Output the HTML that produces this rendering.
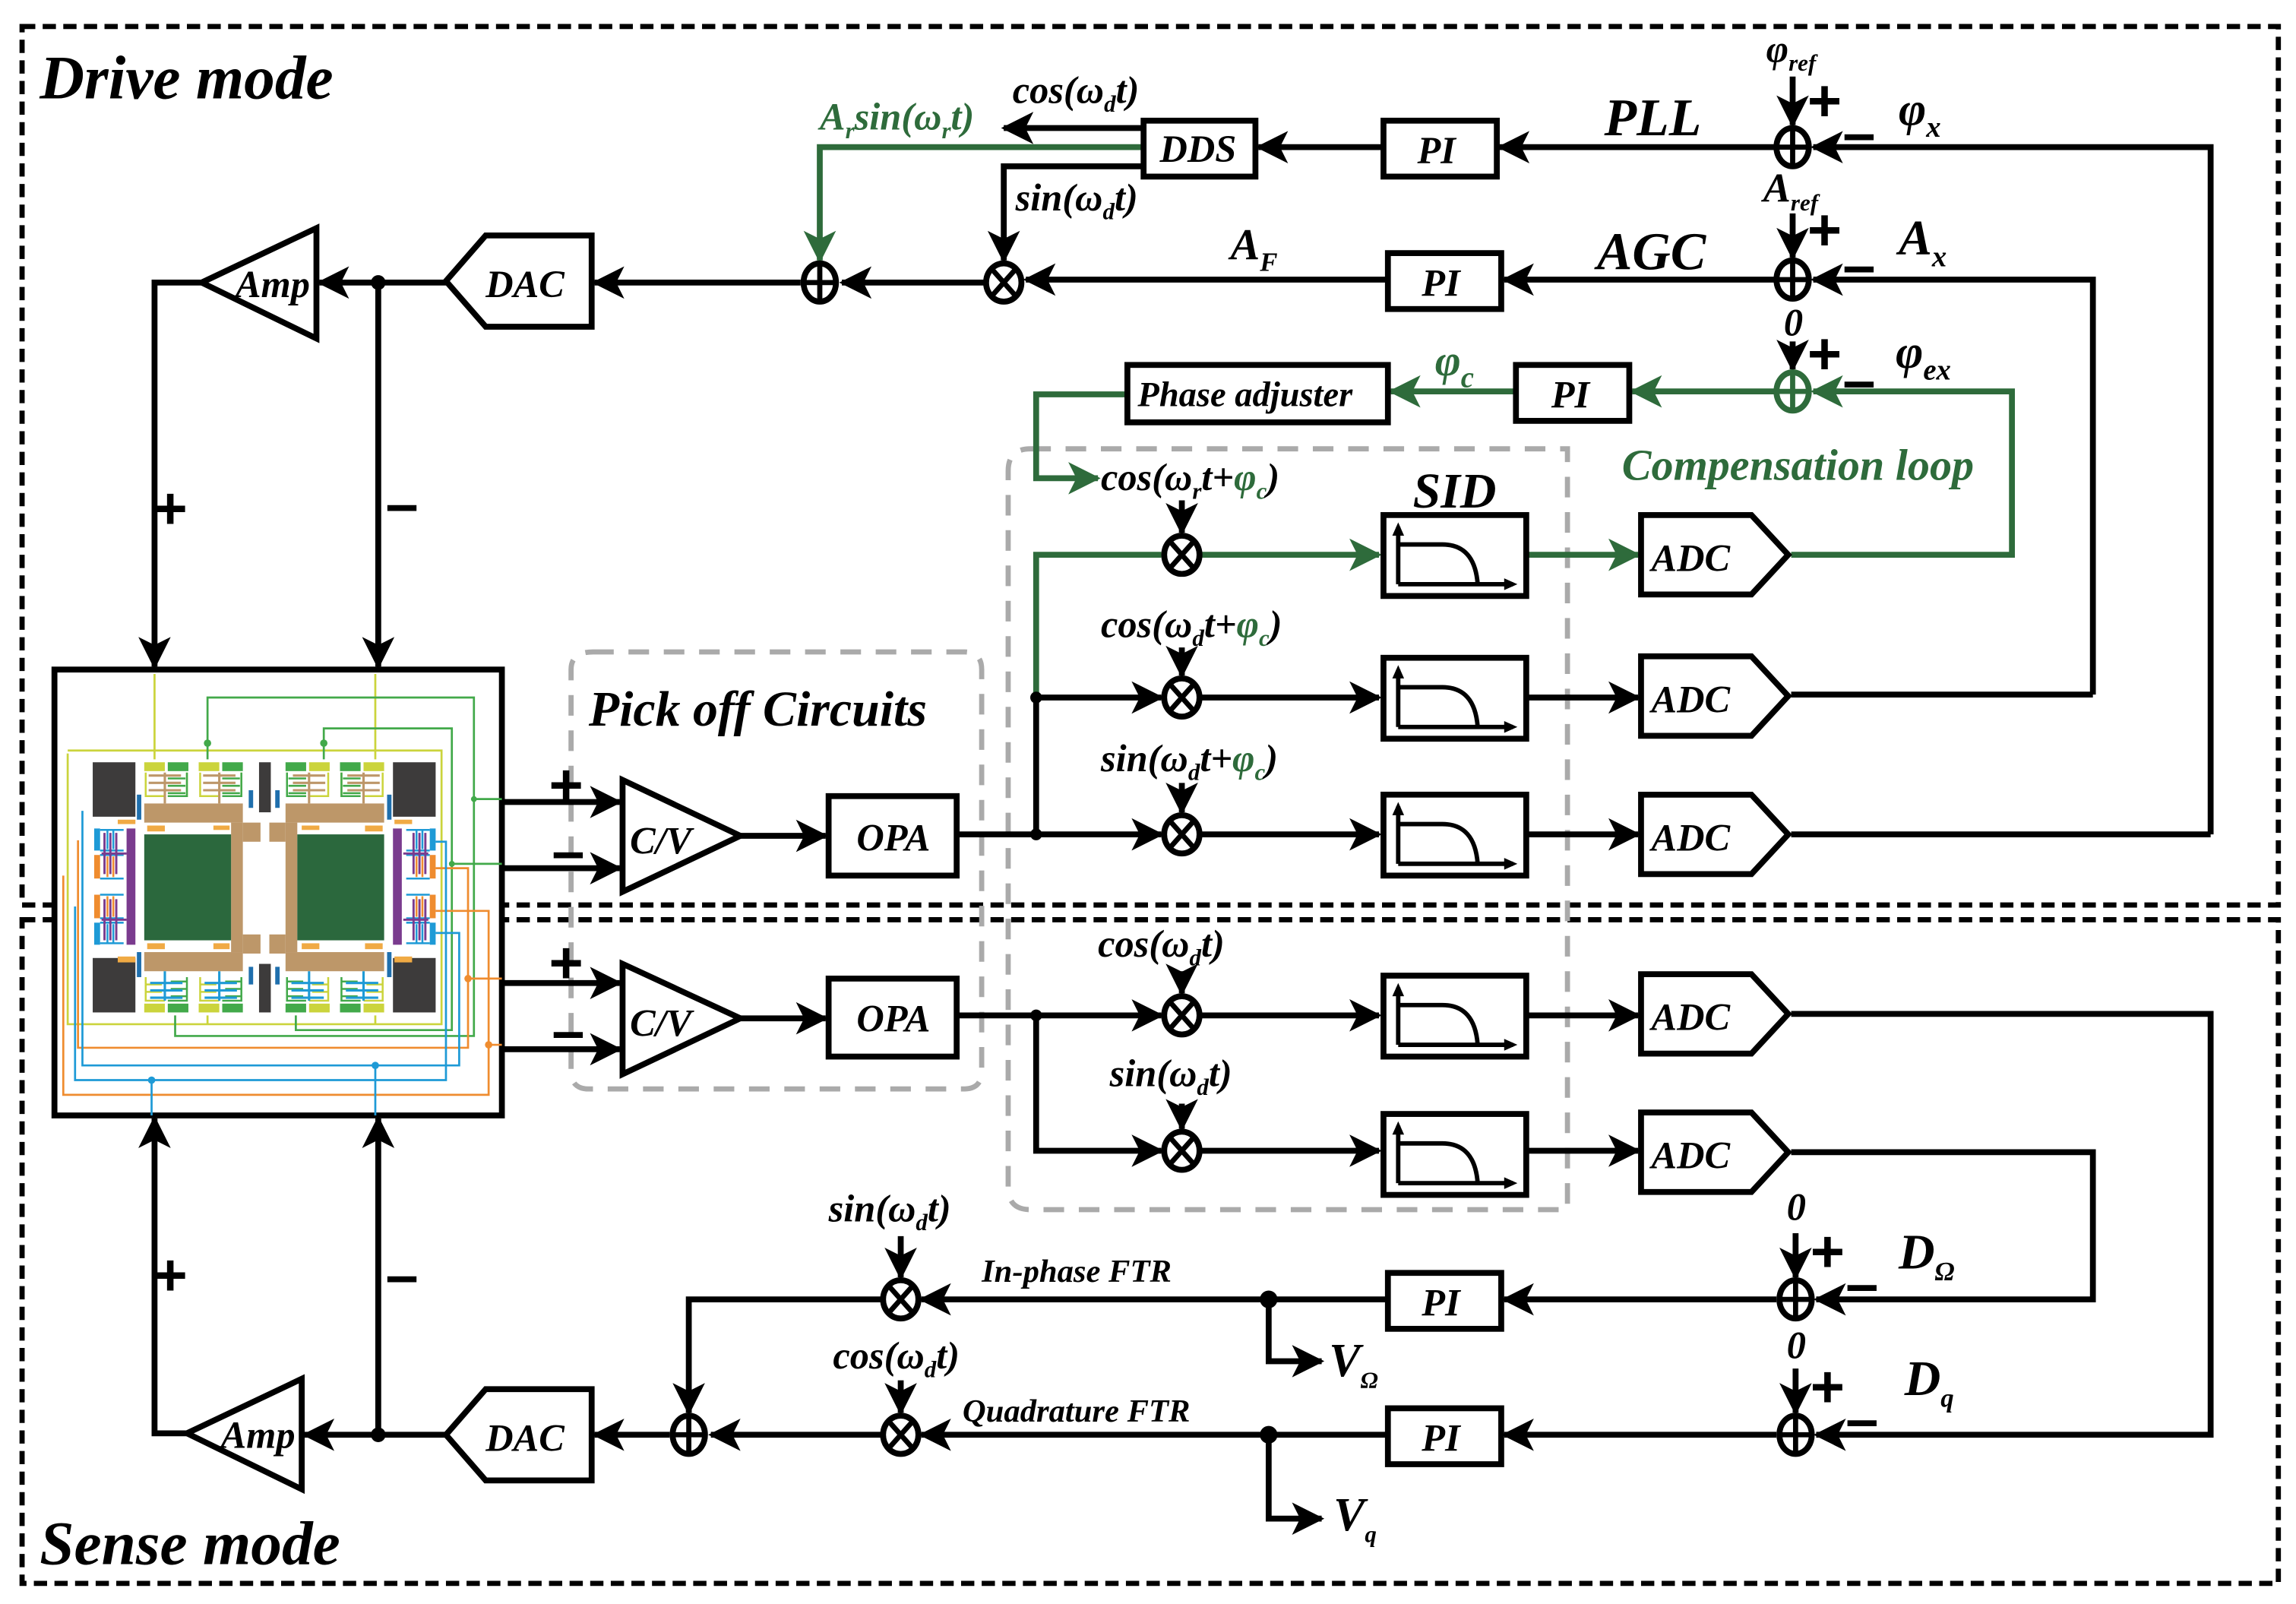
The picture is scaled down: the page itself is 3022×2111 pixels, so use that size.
<!DOCTYPE html>
<html><head><meta charset="utf-8"><style>
html,body{margin:0;padding:0;background:#fff}
svg{display:block}
text{font-family:"Liberation Serif",serif;font-weight:bold;font-style:italic;fill:#000}
.g{fill:#2e6b3b}
.pm{font-family:"Liberation Sans",sans-serif;font-style:normal;font-weight:bold}
</style></head><body>
<svg width="3022" height="2111" viewBox="0 0 1560 1090" preserveAspectRatio="none" xmlns="http://www.w3.org/2000/svg">
<defs>
<marker id="a" viewBox="0 0 12 12" refX="11" refY="6" markerWidth="5.5" markerHeight="5.5" orient="auto" markerUnits="strokeWidth"><path d="M0,0 L12,6 L0,12 L3,6 z" fill="#000"/></marker>
<marker id="ag" viewBox="0 0 12 12" refX="11" refY="6" markerWidth="5.5" markerHeight="5.5" orient="auto" markerUnits="strokeWidth"><path d="M0,0 L12,6 L0,12 L3,6 z" fill="#2e6b3b"/></marker>
<g id="mul"><ellipse cx="0" cy="0" rx="12" ry="13" fill="#fff" stroke="#000" stroke-width="4"/><path d="M-8,-9 L8,9 M8,-9 L-8,9" stroke="#000" stroke-width="3.5"/></g>
<g id="sum"><ellipse cx="0" cy="0" rx="11" ry="13" fill="#fff" stroke="#000" stroke-width="4"/><path d="M-11,0 L11,0 M0,-13 L0,13" stroke="#000" stroke-width="3.5"/></g>
<g id="sumg"><ellipse cx="0" cy="0" rx="11" ry="13" fill="#fff" stroke="#2e6b3b" stroke-width="4"/><path d="M-11,0 L11,0 M0,-13 L0,13" stroke="#2e6b3b" stroke-width="3.5"/></g>
<g id="flt"><rect x="0" y="0" width="97" height="55" fill="#fff" stroke="#000" stroke-width="4"/><path d="M10,47 L10,8 M10,47 L88,47 M10,20 L40,20 Q62,20 64,47" fill="none" stroke="#000" stroke-width="3"/><path d="M6,14 L10,5 L14,14z M82,43 L91,47 L82,51z" fill="#000"/></g>
<g id="adc"><path d="M0,0 L75,0 L100,27 L75,54 L0,54 z" fill="#fff" stroke="#000" stroke-width="4"/></g>
<g id="ctop">
<rect x="0" y="0" width="14" height="6" fill="#cbd43c"/><rect x="16" y="0" width="14" height="6" fill="#42a94a"/>
<path d="M1,7 L1,23 L14,23 M29,7 L29,23 L16,23" fill="none" stroke="#cbd43c" stroke-width="1.3"/>
<path d="M29,7 L29,23 L16,23 M16,11 L28,11 M16,16 L28,16 M16,21 L28,21" fill="none" stroke="#42a94a" stroke-width="1.3"/>
<path d="M3,9 L25,9 M3,14 L25,14 M3,19 L25,19 M14,7 L14,28" fill="none" stroke="#bd9769" stroke-width="1.6"/>
</g>
<g id="cbot">
<rect x="0" y="18" width="14" height="6" fill="#cbd43c"/><rect x="16" y="18" width="14" height="6" fill="#42a94a"/>
<path d="M1,0 L1,16 L14,16 M1,5 L12,5 M1,10 L12,10" fill="none" stroke="#cbd43c" stroke-width="1.3"/>
<path d="M29,0 L29,16 L16,16 M18,3 L29,3 M18,8 L29,8 M18,13 L29,13" fill="none" stroke="#42a94a" stroke-width="1.3"/>
<path d="M4,4 L26,4 M4,9 L26,9 M4,14 L26,14 M14,-4 L14,16" fill="none" stroke="#1e9ad6" stroke-width="1.6"/>
</g>
<g id="cside">
<rect x="0" y="0" width="4" height="15" fill="#1e9ad6"/><rect x="0" y="18" width="4" height="16" fill="#ef8c2f"/>
<path d="M4,1 L20,1 M4,15 L20,15 M4,18 L20,18 M4,34 L20,34" stroke-width="1.3" fill="none" stroke="#1e9ad6"/>
<path d="M7,3 L7,31 M11,3 L11,31 M15,3 L15,31 M5,17 L22,17" stroke="#7a3b8e" stroke-width="1.5" fill="none"/>
<path d="M9,1 L9,14 M13,1 L13,14" stroke="#1e9ad6" stroke-width="1.3"/>
<path d="M9,19 L9,33 M13,19 L13,33" stroke="#ef8c2f" stroke-width="1.3"/>
</g>
</defs>

<!-- mode boxes -->
<rect x="15" y="18" width="1533" height="597" fill="none" stroke="#000" stroke-width="3.5" stroke-dasharray="9,5"/>
<rect x="15" y="625" width="1533" height="451" fill="none" stroke="#000" stroke-width="3.5" stroke-dasharray="9,5"/>
<text x="27" y="67" font-size="42">Drive mode</text>
<text x="27" y="1063" font-size="42">Sense mode</text>

<!-- gray dashed -->
<path d="M403,443 L655,443 Q667,443 667,455 L667,728 Q667,740 655,740 L400,740 Q388,740 388,728 L388,455 Q388,443 403,443 Z" fill="none" stroke="#aaa" stroke-width="3.5" stroke-dasharray="14,10"/>
<path d="M700,305 L1065,305 L1065,822 L700,822 Q685,822 685,807 L685,320 Q685,305 700,305 Z" fill="none" stroke="#aaa" stroke-width="3.5" stroke-dasharray="14,10"/>
<text x="400" y="493" font-size="34">Pick off Circuits</text>
<text x="960" y="345" font-size="34">SID</text>

<g stroke="#000" stroke-width="4" fill="none">
<path d="M137,192 L105,192 L105,453" marker-end="url(#a)"/>
<path d="M303,192 L217,192" marker-end="url(#a)"/>
<path d="M257,192 L257,453" marker-end="url(#a)"/>
<path d="M544,192 L404,192" marker-end="url(#a)"/>
<path d="M669,192 L572,192" marker-end="url(#a)"/>
<path d="M943,190 L697,190" marker-end="url(#a)"/>
<path d="M1207,190 L1022,190" marker-end="url(#a)"/>
<path d="M1422,472 L1422,190 L1232,190" marker-end="url(#a)"/>
<path d="M1217,472 L1422,472"/>
<path d="M1207,100 L1019,100" marker-end="url(#a)"/>
<path d="M940,100 L855,100" marker-end="url(#a)"/>
<path d="M1502,567 L1502,100 L1232,100" marker-end="url(#a)"/>
<path d="M1217,567 L1502,567"/>
<path d="M777,87 L682,87" marker-end="url(#a)"/>
<path d="M777,113 L682,113 L682,177" marker-end="url(#a)"/>
<path d="M1218,52 L1218,85" marker-end="url(#a)"/>
<path d="M1218,145 L1218,175" marker-end="url(#a)"/>
<path d="M1218,232 L1218,251" marker-end="url(#a)"/>
<path d="M803,340 L803,362" marker-end="url(#a)"/>
<path d="M803,440 L803,459" marker-end="url(#a)"/>
<path d="M803,532 L803,552" marker-end="url(#a)"/>
<path d="M650,567 L789,567" marker-end="url(#a)"/>
<path d="M704,474 L789,474" marker-end="url(#a)"/>
<path d="M704,567 L704,470"/>
<path d="M816,474 L937,474" marker-end="url(#a)"/>
<path d="M816,567 L937,567" marker-end="url(#a)"/>
<path d="M1037,474 L1113,474" marker-end="url(#a)"/>
<path d="M1037,567 L1113,567" marker-end="url(#a)"/>
<path d="M341,545 L421,545" marker-end="url(#a)"/>
<path d="M341,590 L421,590" marker-end="url(#a)"/>
<path d="M341,668 L421,668" marker-end="url(#a)"/>
<path d="M341,713 L421,713" marker-end="url(#a)"/>
<path d="M503,568 L561,568" marker-end="url(#a)"/>
<path d="M503,692 L561,692" marker-end="url(#a)"/>
<path d="M650,690 L789,690" marker-end="url(#a)"/>
<path d="M704,690 L704,782 L789,782" marker-end="url(#a)"/>
<path d="M803,660 L803,675" marker-end="url(#a)"/>
<path d="M803,750 L803,767" marker-end="url(#a)"/>
<path d="M816,690 L937,690" marker-end="url(#a)"/>
<path d="M816,782 L937,782" marker-end="url(#a)"/>
<path d="M1037,690 L1113,690" marker-end="url(#a)"/>
<path d="M1037,782 L1113,782" marker-end="url(#a)"/>
<path d="M1217,689 L1502,689 L1502,975 L1234,975" marker-end="url(#a)"/>
<path d="M1217,783 L1422,783 L1422,883 L1234,883" marker-end="url(#a)"/>
<path d="M1220,838 L1220,868" marker-end="url(#a)"/>
<path d="M1220,930 L1220,960" marker-end="url(#a)"/>
<path d="M1207,883 L1022,883" marker-end="url(#a)"/>
<path d="M1207,975 L1022,975" marker-end="url(#a)"/>
<path d="M943,883 L626,883" marker-end="url(#a)"/>
<path d="M943,975 L626,975" marker-end="url(#a)"/>
<path d="M862,883 L862,925 L898,925" marker-end="url(#a)"/>
<path d="M862,975 L862,1032 L898,1032" marker-end="url(#a)"/>
<path d="M612,840 L612,868" marker-end="url(#a)"/>
<path d="M612,938 L612,960" marker-end="url(#a)"/>
<path d="M599,883 L468,883 L468,960" marker-end="url(#a)"/>
<path d="M599,975 L483,975" marker-end="url(#a)"/>
<path d="M455,975 L404,975" marker-end="url(#a)"/>
<path d="M303,975 L207,975" marker-end="url(#a)"/>
<path d="M127,974 L105,974 L105,760" marker-end="url(#a)"/>
<path d="M257,975 L257,760" marker-end="url(#a)"/>
</g>
<g stroke="#2e6b3b" stroke-width="4" fill="none">
<path d="M777,100 L557,100 L557,177" marker-end="url(#ag)"/>
<path d="M1217,377 L1367,377 L1367,266 L1232,266" marker-end="url(#ag)"/>
<path d="M1207,266 L1109,266" marker-end="url(#ag)"/>
<path d="M1030,266 L945,266" marker-end="url(#ag)"/>
<path d="M766,268 L704,268 L704,325 L746,325" marker-end="url(#ag)"/>
<path d="M704,474 L704,377 L789,377" />
<path d="M816,377 L937,377" marker-end="url(#ag)"/>
<path d="M1037,377 L1113,377" marker-end="url(#ag)"/>
</g>
<g fill="#000"><circle cx="257" cy="192" r="5"/><circle cx="257" cy="975" r="5"/><circle cx="704" cy="474" r="4"/><circle cx="704" cy="567" r="4"/><circle cx="704" cy="690" r="4"/><circle cx="862" cy="883" r="6"/><circle cx="862" cy="975" r="6"/></g>

<g stroke="#000" stroke-width="4" fill="#fff">
<path d="M215,155 L215,230 L137,192 Z"/>
<path d="M205,937 L205,1012 L127,974 Z"/>
<path d="M402,160 L330,160 L303,191 L330,222 L402,222 Z"/>
<path d="M402,944 L330,944 L303,975 L330,1006 L402,1006 Z"/>
<rect x="777" y="82" width="76" height="38"/>
<rect x="940" y="82" width="77" height="38"/>
<rect x="943" y="172" width="77" height="38"/>
<rect x="1030" y="248" width="77" height="38"/>
<rect x="766" y="248" width="177" height="39"/>
<rect x="943" y="865" width="77" height="38"/>
<rect x="943" y="957" width="77" height="38"/>
<path d="M423,530 L423,606 L503,568 Z"/>
<path d="M423,655 L423,730 L503,692 Z"/>
<rect x="563" y="541" width="87" height="54"/>
<rect x="563" y="665" width="87" height="53"/>
</g>
<use href="#flt" x="940" y="350"/><use href="#flt" x="940" y="447"/><use href="#flt" x="940" y="540"/><use href="#flt" x="940" y="663"/><use href="#flt" x="940" y="757"/>
<use href="#adc" x="1115" y="350"/><use href="#adc" x="1115" y="446"/><use href="#adc" x="1115" y="540"/><use href="#adc" x="1115" y="662"/><use href="#adc" x="1115" y="756"/>
<use href="#mul" x="803" y="377"/><use href="#mul" x="803" y="474"/><use href="#mul" x="803" y="567"/><use href="#mul" x="803" y="690"/><use href="#mul" x="803" y="782"/>
<use href="#mul" x="682" y="192"/><use href="#mul" x="612" y="883"/><use href="#mul" x="612" y="975"/>
<use href="#sum" x="557" y="192"/><use href="#sum" x="468" y="975"/>
<use href="#sum" x="1218" y="100"/><use href="#sum" x="1218" y="190"/><use href="#sumg" x="1218" y="266"/>
<use href="#sum" x="1220" y="883"/><use href="#sum" x="1220" y="975"/>

<g font-size="26">
<text x="160" y="202">Amp</text><text x="150" y="984">Amp</text>
<text x="330" y="202">DAC</text><text x="330" y="986">DAC</text>
<text x="788" y="110">DDS</text>
<text x="963" y="111">PI</text><text x="966" y="201">PI</text><text x="1054" y="277">PI</text>
<text x="966" y="894">PI</text><text x="966" y="986">PI</text>
<text x="773" y="276" font-size="24">Phase adjuster</text>
<text x="428" y="580">C/V</text><text x="428" y="704">C/V</text>
<text x="582" y="578">OPA</text><text x="582" y="701">OPA</text>
<text x="1122" y="388">ADC</text><text x="1122" y="484">ADC</text><text x="1122" y="578">ADC</text><text x="1122" y="700">ADC</text><text x="1122" y="794">ADC</text>
</g>

<g font-size="26">
<text x="688" y="70">cos(ω<tspan font-size="16" dy="6">d</tspan><tspan dy="-6">t)</tspan></text>
<text x="690" y="143">sin(ω<tspan font-size="16" dy="6">d</tspan><tspan dy="-6">t)</tspan></text>
<text x="557" y="88" class="g">A<tspan font-size="16" dy="6">r</tspan><tspan dy="-6">sin(ω</tspan><tspan font-size="16" dy="6">r</tspan><tspan dy="-6">t)</tspan></text>
<text x="836" y="176" font-size="30">A<tspan font-size="18" dy="8">F</tspan></text>
<text x="1090" y="92" font-size="36">PLL</text>
<text x="1085" y="183" font-size="36">AGC</text>
<text x="1200" y="42">φ<tspan font-size="16" dy="6">ref</tspan></text>
<text x="1198" y="137" font-size="28">A<tspan font-size="16" dy="6">ref</tspan></text>
<text x="1212" y="228">0</text>
<text x="1290" y="85" font-size="32">φ<tspan font-size="20" dy="8">x</tspan></text>
<text x="1290" y="173" font-size="34">A<tspan font-size="20" dy="8">x</tspan></text>
<text x="1288" y="250" font-size="32">φ<tspan font-size="20" dy="8">ex</tspan></text>
<text x="975" y="255" font-size="30" class="g">φ<tspan font-size="20" dy="8">c</tspan></text>
<text x="1102" y="326" font-size="30" class="g">Compensation loop</text>
<text x="748" y="333">cos(ω<tspan font-size="16" dy="6">r</tspan><tspan dy="-6">t+</tspan><tspan class="g">φ</tspan><tspan font-size="16" dy="6" class="g">c</tspan><tspan dy="-6">)</tspan></text>
<text x="748" y="433">cos(ω<tspan font-size="16" dy="6">d</tspan><tspan dy="-6">t+</tspan><tspan class="g">φ</tspan><tspan font-size="16" dy="6" class="g">c</tspan><tspan dy="-6">)</tspan></text>
<text x="748" y="524">sin(ω<tspan font-size="16" dy="6">d</tspan><tspan dy="-6">t+</tspan><tspan class="g">φ</tspan><tspan font-size="16" dy="6" class="g">c</tspan><tspan dy="-6">)</tspan></text>
<text x="746" y="650">cos(ω<tspan font-size="16" dy="6">d</tspan><tspan dy="-6">t)</tspan></text>
<text x="754" y="738">sin(ω<tspan font-size="16" dy="6">d</tspan><tspan dy="-6">t)</tspan></text>
<text x="563" y="830">sin(ω<tspan font-size="16" dy="6">d</tspan><tspan dy="-6">t)</tspan></text>
<text x="566" y="930">cos(ω<tspan font-size="16" dy="6">d</tspan><tspan dy="-6">t)</tspan></text>
<text x="667" y="871" font-size="22">In-phase FTR</text>
<text x="654" y="966" font-size="22">Quadrature FTR</text>
<text x="903" y="935" font-size="32">V<tspan font-size="16" dy="8">Ω</tspan></text>
<text x="906" y="1040" font-size="32">V<tspan font-size="16" dy="8">q</tspan></text>
<text x="1214" y="829">0</text><text x="1214" y="923">0</text>
<text x="1290" y="862" font-size="34">D<tspan font-size="18" dy="8">Ω</tspan></text>
<text x="1294" y="948" font-size="34">D<tspan font-size="18" dy="8">q</tspan></text>
</g>
<g font-size="40">
<text class="pm" x="1228" y="82">+</text><text class="pm" x="1252" y="104">–</text>
<text class="pm" x="1228" y="170">+</text><text class="pm" x="1252" y="194">–</text>
<text class="pm" x="1228" y="254">+</text><text class="pm" x="1252" y="272">–</text>
<text class="pm" x="1230" y="864">+</text><text class="pm" x="1254" y="886">–</text>
<text class="pm" x="1230" y="956">+</text><text class="pm" x="1254" y="978">–</text>
<text class="pm" x="104" y="359">+</text><text class="pm" x="262" y="356">–</text>
<text class="pm" x="104" y="880">+</text><text class="pm" x="262" y="880">–</text>
<text class="pm" x="373" y="547">+</text><text class="pm" x="375" y="592">–</text>
<text class="pm" x="373" y="668">+</text><text class="pm" x="375" y="714">–</text>
</g>

<!-- chip -->
<rect x="37" y="455" width="304" height="303" fill="#fff" stroke="#000" stroke-width="4"/>
<g fill="none" stroke-width="1.4">
<path d="M105,458 L105,516 M255,458 L255,516 M46,512 L46,696 L300,696 L300,510 L46,510 M141,696 L141,690 M255,696 L255,690" stroke="#cbd43c"/>
<path d="M141,516 L141,474 L322,474 L322,543 L341,543 M322,543 L322,704 L119,704 L119,690 M220,516 L220,495 L307,495 L307,587 L341,587 M307,587 L307,700 L201,700 L201,690" stroke="#42a94a"/>
<path d="M53,571 L53,712 L318,712 L318,590 L296,590 M318,665 L341,665" stroke="#ef8c2f"/>
<path d="M43,595 L43,744 L332,744 L332,619 L296,619 M332,710 L341,710" stroke="#ef8c2f"/>
<path d="M56,551 L56,724 L312,724 L312,634 L296,634 M255,724 L255,758" stroke="#1e9ad6"/>
<path d="M51,616 L51,734 L303,734 L303,572 L296,572 M103,734 L103,758" stroke="#1e9ad6"/>
</g>
<g fill="#3d3b3b"><rect x="63" y="518" width="29" height="37"/><rect x="63" y="651" width="29" height="37"/><rect x="267" y="518" width="29" height="37"/><rect x="267" y="651" width="29" height="37"/><rect x="176" y="518" width="8" height="34"/><rect x="176" y="655" width="8" height="33"/></g>
<g fill="#bd9769"><rect x="98" y="546" width="67" height="13"/><rect x="98" y="647" width="67" height="13"/><rect x="194" y="546" width="67" height="13"/><rect x="194" y="647" width="67" height="13"/><rect x="157" y="559" width="8" height="88"/><rect x="194" y="559" width="8" height="88"/><rect x="165" y="559" width="12" height="13"/><rect x="183" y="559" width="11" height="13"/><rect x="165" y="635" width="12" height="13"/><rect x="183" y="635" width="11" height="13"/></g>
<g fill="#2b683d"><rect x="98" y="567" width="59" height="72"/><rect x="202" y="567" width="59" height="72"/></g>
<g fill="#7a3b8e"><rect x="86" y="563" width="6" height="79"/><rect x="267" y="563" width="6" height="79"/></g>
<g fill="#1f6fad"><rect x="93" y="540" width="3" height="17"/><rect x="93" y="647" width="3" height="17"/><rect x="263" y="540" width="3" height="17"/><rect x="263" y="647" width="3" height="17"/><rect x="169" y="537" width="3" height="12"/><rect x="187" y="537" width="3" height="12"/><rect x="169" y="657" width="3" height="12"/><rect x="187" y="657" width="3" height="12"/></g>
<g fill="#f0aa44"><rect x="100" y="561" width="12" height="4"/><rect x="145" y="561" width="11" height="3"/><rect x="205" y="561" width="12" height="3"/><rect x="248" y="561" width="12" height="4"/><rect x="100" y="641" width="12" height="4"/><rect x="145" y="641" width="11" height="4"/><rect x="205" y="641" width="12" height="4"/><rect x="248" y="641" width="12" height="4"/><rect x="80" y="557" width="12" height="3"/><rect x="268" y="557" width="12" height="3"/><rect x="80" y="650" width="12" height="4"/><rect x="268" y="650" width="12" height="4"/></g>
<use href="#ctop" x="98" y="518"/><use href="#ctop" x="135" y="518"/>
<use href="#ctop" x="224" y="518" transform="translate(448,0) scale(-1,1)"/><use href="#ctop" x="261" y="518" transform="translate(522,0) scale(-1,1)"/>
<use href="#cbot" x="98" y="664"/><use href="#cbot" x="135" y="664"/>
<use href="#cbot" x="224" y="664" transform="translate(448,0) scale(-1,1)"/><use href="#cbot" x="261" y="664" transform="translate(522,0) scale(-1,1)"/>
<use href="#cside" x="64" y="563"/><use href="#cside" x="64" y="607" transform="translate(0,1249) scale(1,-1)"/>
<use href="#cside" x="275" y="563" transform="translate(571,0) scale(-1,1)"/><use href="#cside" x="275" y="607" transform="translate(571,1249) scale(-1,-1)"/>
<g fill="#42a94a"><circle cx="141" cy="505" r="2.5"/><circle cx="220" cy="505" r="2.5"/><circle cx="307" cy="587" r="2"/><circle cx="322" cy="543" r="2"/></g>
<g fill="#ef8c2f"><circle cx="318" cy="665" r="2.5"/><circle cx="332" cy="710" r="2.5"/></g>
<g fill="#1e9ad6"><circle cx="255" cy="724" r="2.5"/><circle cx="103" cy="734" r="2.5"/></g>
</svg>
</body></html>
